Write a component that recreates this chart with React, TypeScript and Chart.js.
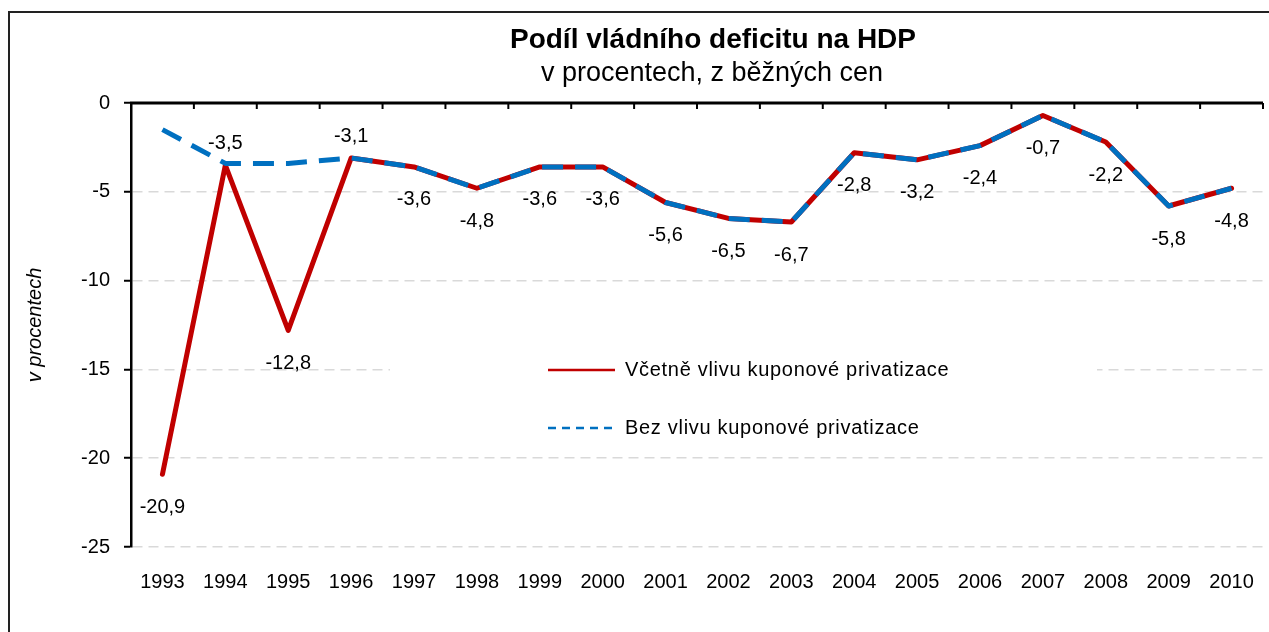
import React, { useEffect, useRef } from 'react';
import { Chart, registerables } from 'chart.js';

Chart.register(...registerables);

const years = ['1993', '1994', '1995', '1996', '1997', '1998', '1999', '2000', '2001', '2002', '2003', '2004', '2005', '2006', '2007', '2008', '2009', '2010'];
const withPrivatization = [-20.9, -3.5, -12.8, -3.1, -3.6, -4.8, -3.6, -3.6, -5.6, -6.5, -6.7, -2.8, -3.2, -2.4, -0.7, -2.2, -5.8, -4.8];
const withoutPrivatization = [-1.5, -3.4, -3.4, -3.1, -3.6, -4.8, -3.6, -3.6, -5.6, -6.5, -6.7, -2.8, -3.2, -2.4, -0.7, -2.2, -5.8, -4.8];
const labelAbove = [false, true, false, true, false, false, false, false, false, false, false, false, false, false, false, false, false, false];
const yMin = -25;
const yMax = 0;
const yStep = 5;
const titleText = 'Podíl vládního deficitu na HDP';
const subtitleText = 'v procentech, z běžných cen';
const yAxisTitle = 'v procentech';
const seriesNames = ['Včetně vlivu kuponové privatizace', 'Bez vlivu kuponové privatizace'];

const RED = '#C00000';
const BLUE = '#0070C0';
const FONT = "'Liberation Sans', Arial, sans-serif";

const framePlugin = {
  id: 'frame',
  beforeDraw(chart: any) {
    const ctx = chart.ctx;
    ctx.save();
    ctx.fillStyle = '#ffffff';
    ctx.fillRect(0, 0, chart.width, chart.height);
    ctx.strokeStyle = '#222';
    ctx.lineWidth = 2;
    ctx.strokeRect(9, 12, chart.width + 100, chart.height + 100);
    ctx.restore();
  },
};

const titlePlugin = {
  id: 'titles',
  afterDraw(chart: any) {
    const ctx = chart.ctx;
    ctx.save();
    ctx.fillStyle = '#000';
    ctx.textAlign = 'center';
    ctx.textBaseline = 'alphabetic';
    ctx.font = `bold 28px ${FONT}`;
    ctx.fillText(titleText, 713, 48);
    ctx.font = `27px ${FONT}`;
    ctx.fillText(subtitleText, 712, 81);
    ctx.restore();
  },
};

const legendPlugin = {
  id: 'insideLegend',
  beforeDatasetsDraw(chart: any) {
    const ctx = chart.ctx;
    ctx.save();
    ctx.fillStyle = '#fff';
    ctx.fillRect(390, 300, 707, 150);
    const lx = 548;
    const rows = [370, 428];
    ctx.strokeStyle = RED;
    ctx.lineWidth = 2.5;
    ctx.beginPath();
    ctx.moveTo(lx, rows[0]);
    ctx.lineTo(lx + 67, rows[0]);
    ctx.stroke();
    ctx.strokeStyle = BLUE;
    ctx.setLineDash([8, 6]);
    ctx.beginPath();
    ctx.moveTo(lx, rows[1]);
    ctx.lineTo(lx + 66, rows[1]);
    ctx.stroke();
    ctx.setLineDash([]);
    ctx.fillStyle = '#000';
    ctx.font = `20px ${FONT}`;
    (ctx as any).letterSpacing = '0.7px';
    ctx.textAlign = 'left';
    ctx.textBaseline = 'middle';
    ctx.fillText(seriesNames[0], 625, rows[0]);
    ctx.fillText(seriesNames[1], 625, rows[1]);
    ctx.restore();
  },
};

const topAxisPlugin = {
  id: 'topAxis',
  afterDatasetsDraw(chart: any) {
    const ctx = chart.ctx;
    const a = chart.chartArea;
    const y0 = chart.scales.y.getPixelForValue(0);
    const n = years.length;
    const w = (a.right - a.left) / n;
    ctx.save();
    ctx.strokeStyle = '#000';
    ctx.lineWidth = 2;
    for (let i = 0; i <= n; i++) {
      const x = a.left + i * w;
      ctx.beginPath();
      ctx.moveTo(x, y0);
      ctx.lineTo(x, y0 + 6);
      ctx.stroke();
    }
    ctx.lineWidth = 3;
    ctx.beginPath();
    ctx.moveTo(a.left - 1, y0);
    ctx.lineTo(a.right, y0);
    ctx.stroke();
    ctx.restore();
  },
};

const dataLabelPlugin = {
  id: 'dataLabels',
  afterDatasetsDraw(chart: any) {
    const ctx = chart.ctx;
    const meta = chart.getDatasetMeta(0);
    ctx.save();
    ctx.fillStyle = '#000';
    ctx.font = `20px ${FONT}`;
    ctx.textAlign = 'center';
    ctx.textBaseline = 'middle';
    meta.data.forEach((pt: any, i: number) => {
      const txt = withPrivatization[i].toFixed(1).replace('.', ',');
      const y = labelAbove[i] ? pt.y - 22 : pt.y + 33;
      ctx.fillText(txt, pt.x, y);
    });
    ctx.restore();
  },
};

export default function App() {
  const canvasRef = useRef<HTMLCanvasElement | null>(null);

  useEffect(() => {
    document.body.style.overflow = 'hidden';
    const canvas = canvasRef.current;
    if (!canvas) return;
    const chart = new Chart(canvas, {
      type: 'line',
      data: {
        labels: years,
        datasets: [
          {
            label: seriesNames[0],
            data: withPrivatization,
            borderColor: RED,
            backgroundColor: RED,
            borderWidth: 5,
            pointRadius: 0,
            tension: 0,
            borderCapStyle: 'round',
            borderJoinStyle: 'round',
            order: 1,
          },
          {
            label: seriesNames[1],
            data: withoutPrivatization,
            borderColor: BLUE,
            backgroundColor: BLUE,
            borderWidth: 5,
            borderDash: [21, 12],
            pointRadius: 0,
            tension: 0,
            borderCapStyle: 'butt',
            borderJoinStyle: 'round',
            order: 0,
          },
        ],
      },
      options: {
        animation: false,
        responsive: true,
        maintainAspectRatio: false,
        layout: { padding: { top: 103, right: 6, left: 0, bottom: 0 } },
        plugins: {
          legend: { display: false },
          title: { display: false },
          tooltip: { enabled: false },
        },
        scales: {
          x: {
            type: 'category',
            offset: true,
            grid: { display: false, drawTicks: false },
            border: { display: false },
            ticks: {
              color: '#000',
              font: { family: FONT, size: 20 },
              padding: 23,
              maxRotation: 0,
              autoSkip: false,
            },
            afterFit: (s: any) => {
              s.height = 85;
              s.paddingLeft = 0;
              s.paddingRight = 0;
            },
          },
          y: {
            min: yMin,
            max: yMax,
            grid: {
              color: '#d9d9d9',
              lineWidth: 1.5,
              tickColor: '#000',
              tickLength: 7,
              tickWidth: 2,
            },
            border: { display: true, color: '#000', width: 2.5, dash: [10, 6] },
            ticks: {
              stepSize: yStep,
              color: '#000',
              font: { family: FONT, size: 20 },
              padding: 14,
            },
            title: {
              display: true,
              text: yAxisTitle,
              color: '#000',
              font: { family: FONT, size: 20, style: 'italic' },
              padding: { top: 23, bottom: 0 },
            },
            afterFit: (s: any) => {
              s.width = 131;
              s.paddingTop = 0;
              s.paddingBottom = 0;
            },
          },
        },
      },
      plugins: [framePlugin, legendPlugin, topAxisPlugin, dataLabelPlugin, titlePlugin],
    });
    return () => chart.destroy();
  }, []);

  return (
    <div style={{ position: 'absolute', left: 0, top: 0, width: 1269, height: 632 }}>
      <canvas ref={canvasRef} />
    </div>
  );
}
